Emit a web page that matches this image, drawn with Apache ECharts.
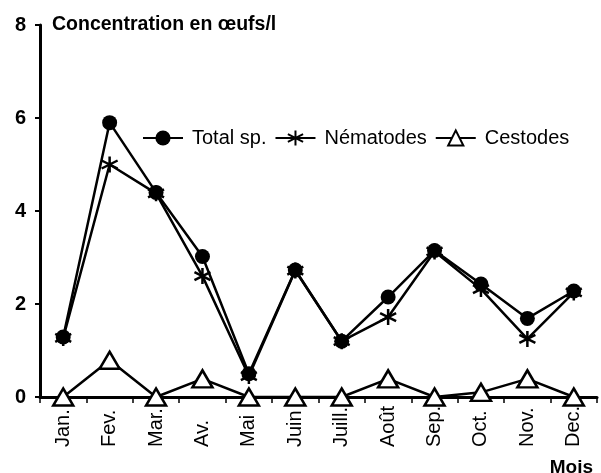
<!DOCTYPE html>
<html><head><meta charset="utf-8">
<script src="https://cdn.jsdelivr.net/npm/echarts@6/dist/echarts.min.js"></script>
<style>html,body{margin:0;padding:0;background:#fff}#c{width:601px;height:473px}</style>
</head><body><div id="c"></div>
<script>
const months = ['Jan.','Fev.','Mar.','Av.','Mai','Juin','Juill.','Août','Sep.','Oct.','Nov.','Dec.'];
const totalSp = [1.29, 5.9, 4.4, 3.02, 0.5, 2.73, 1.2, 2.15, 3.15, 2.43, 1.69, 2.28];
const nematodes = [1.27, 5.0, 4.38, 2.6, 0.45, 2.72, 1.2, 1.72, 3.13, 2.32, 1.25, 2.25];
const cestodes = [0, 0.79, 0, 0.39, 0, 0, 0, 0.39, 0, 0.1, 0.39, 0];
const yTicks = [0, 2, 4, 6, 8];

const FONT = '"Liberation Sans",Arial,sans-serif';
const asterisk = 'path://M0,-1L0,1M-0.866,-0.5L0.866,0.5M-0.866,0.5L0.866,-0.5';

const chart = echarts.init(document.getElementById('c'), null, {renderer:'canvas'});
chart.setOption({
  animation:false,
  backgroundColor:'#fff',
  textStyle:{fontFamily:FONT,color:'#000'},
  grid:{left:40,right:4,top:25,bottom:76,containLabel:false},
  title:[
    {text:'Concentration en œufs/l',left:47,top:10,textStyle:{fontFamily:FONT,fontWeight:'bold',fontSize:19.5,color:'#000'}},
    {text:'Mois',right:3,top:453,textStyle:{fontFamily:FONT,fontWeight:'bold',fontSize:19,color:'#000'}}
  ],
  legend:{
    left:137,top:123,itemWidth:40,itemHeight:19,itemGap:8,
    textStyle:{fontFamily:FONT,fontSize:20,color:'#000',padding:[0,0,0,4]},
    data:['Total sp.','Nématodes','Cestodes']
  },
  xAxis:{
    type:'category',data:months,boundaryGap:true,
    axisLine:{lineStyle:{color:'#000',width:3}},
    axisTick:{show:true,length:6,lineStyle:{color:'#000',width:1.5}},
    axisLabel:{rotate:90,fontSize:20,color:'#000',margin:50,align:'left',fontFamily:FONT},
    splitLine:{show:false}
  },
  yAxis:{
    type:'value',min:yTicks[0],max:yTicks[yTicks.length-1],interval:2,
    axisLine:{show:true,lineStyle:{color:'#000',width:3}},
    axisTick:{show:true,length:5,lineStyle:{color:'#000',width:2}},
    axisLabel:{fontSize:20,fontWeight:'bold',color:'#000',margin:14,fontFamily:FONT},
    splitLine:{show:false}
  },
  series:[
    {name:'Total sp.',type:'line',data:totalSp,symbol:'circle',symbolSize:15,
     lineStyle:{color:'#000',width:2.5},itemStyle:{color:'#000',borderColor:'#000',borderWidth:0},z:3},
    {name:'Nématodes',type:'line',data:nematodes,symbol:asterisk,symbolSize:16,
     lineStyle:{color:'#000',width:2.5},itemStyle:{color:'#000',borderColor:'#000',borderWidth:2.5},z:4},
    {name:'Cestodes',type:'line',data:cestodes,symbol:'triangle',symbolSize:[20,17],
     lineStyle:{color:'#000',width:2.5},itemStyle:{color:'#fff',borderColor:'#000',borderWidth:2.5},z:5}
  ]
});
</script></body></html>
